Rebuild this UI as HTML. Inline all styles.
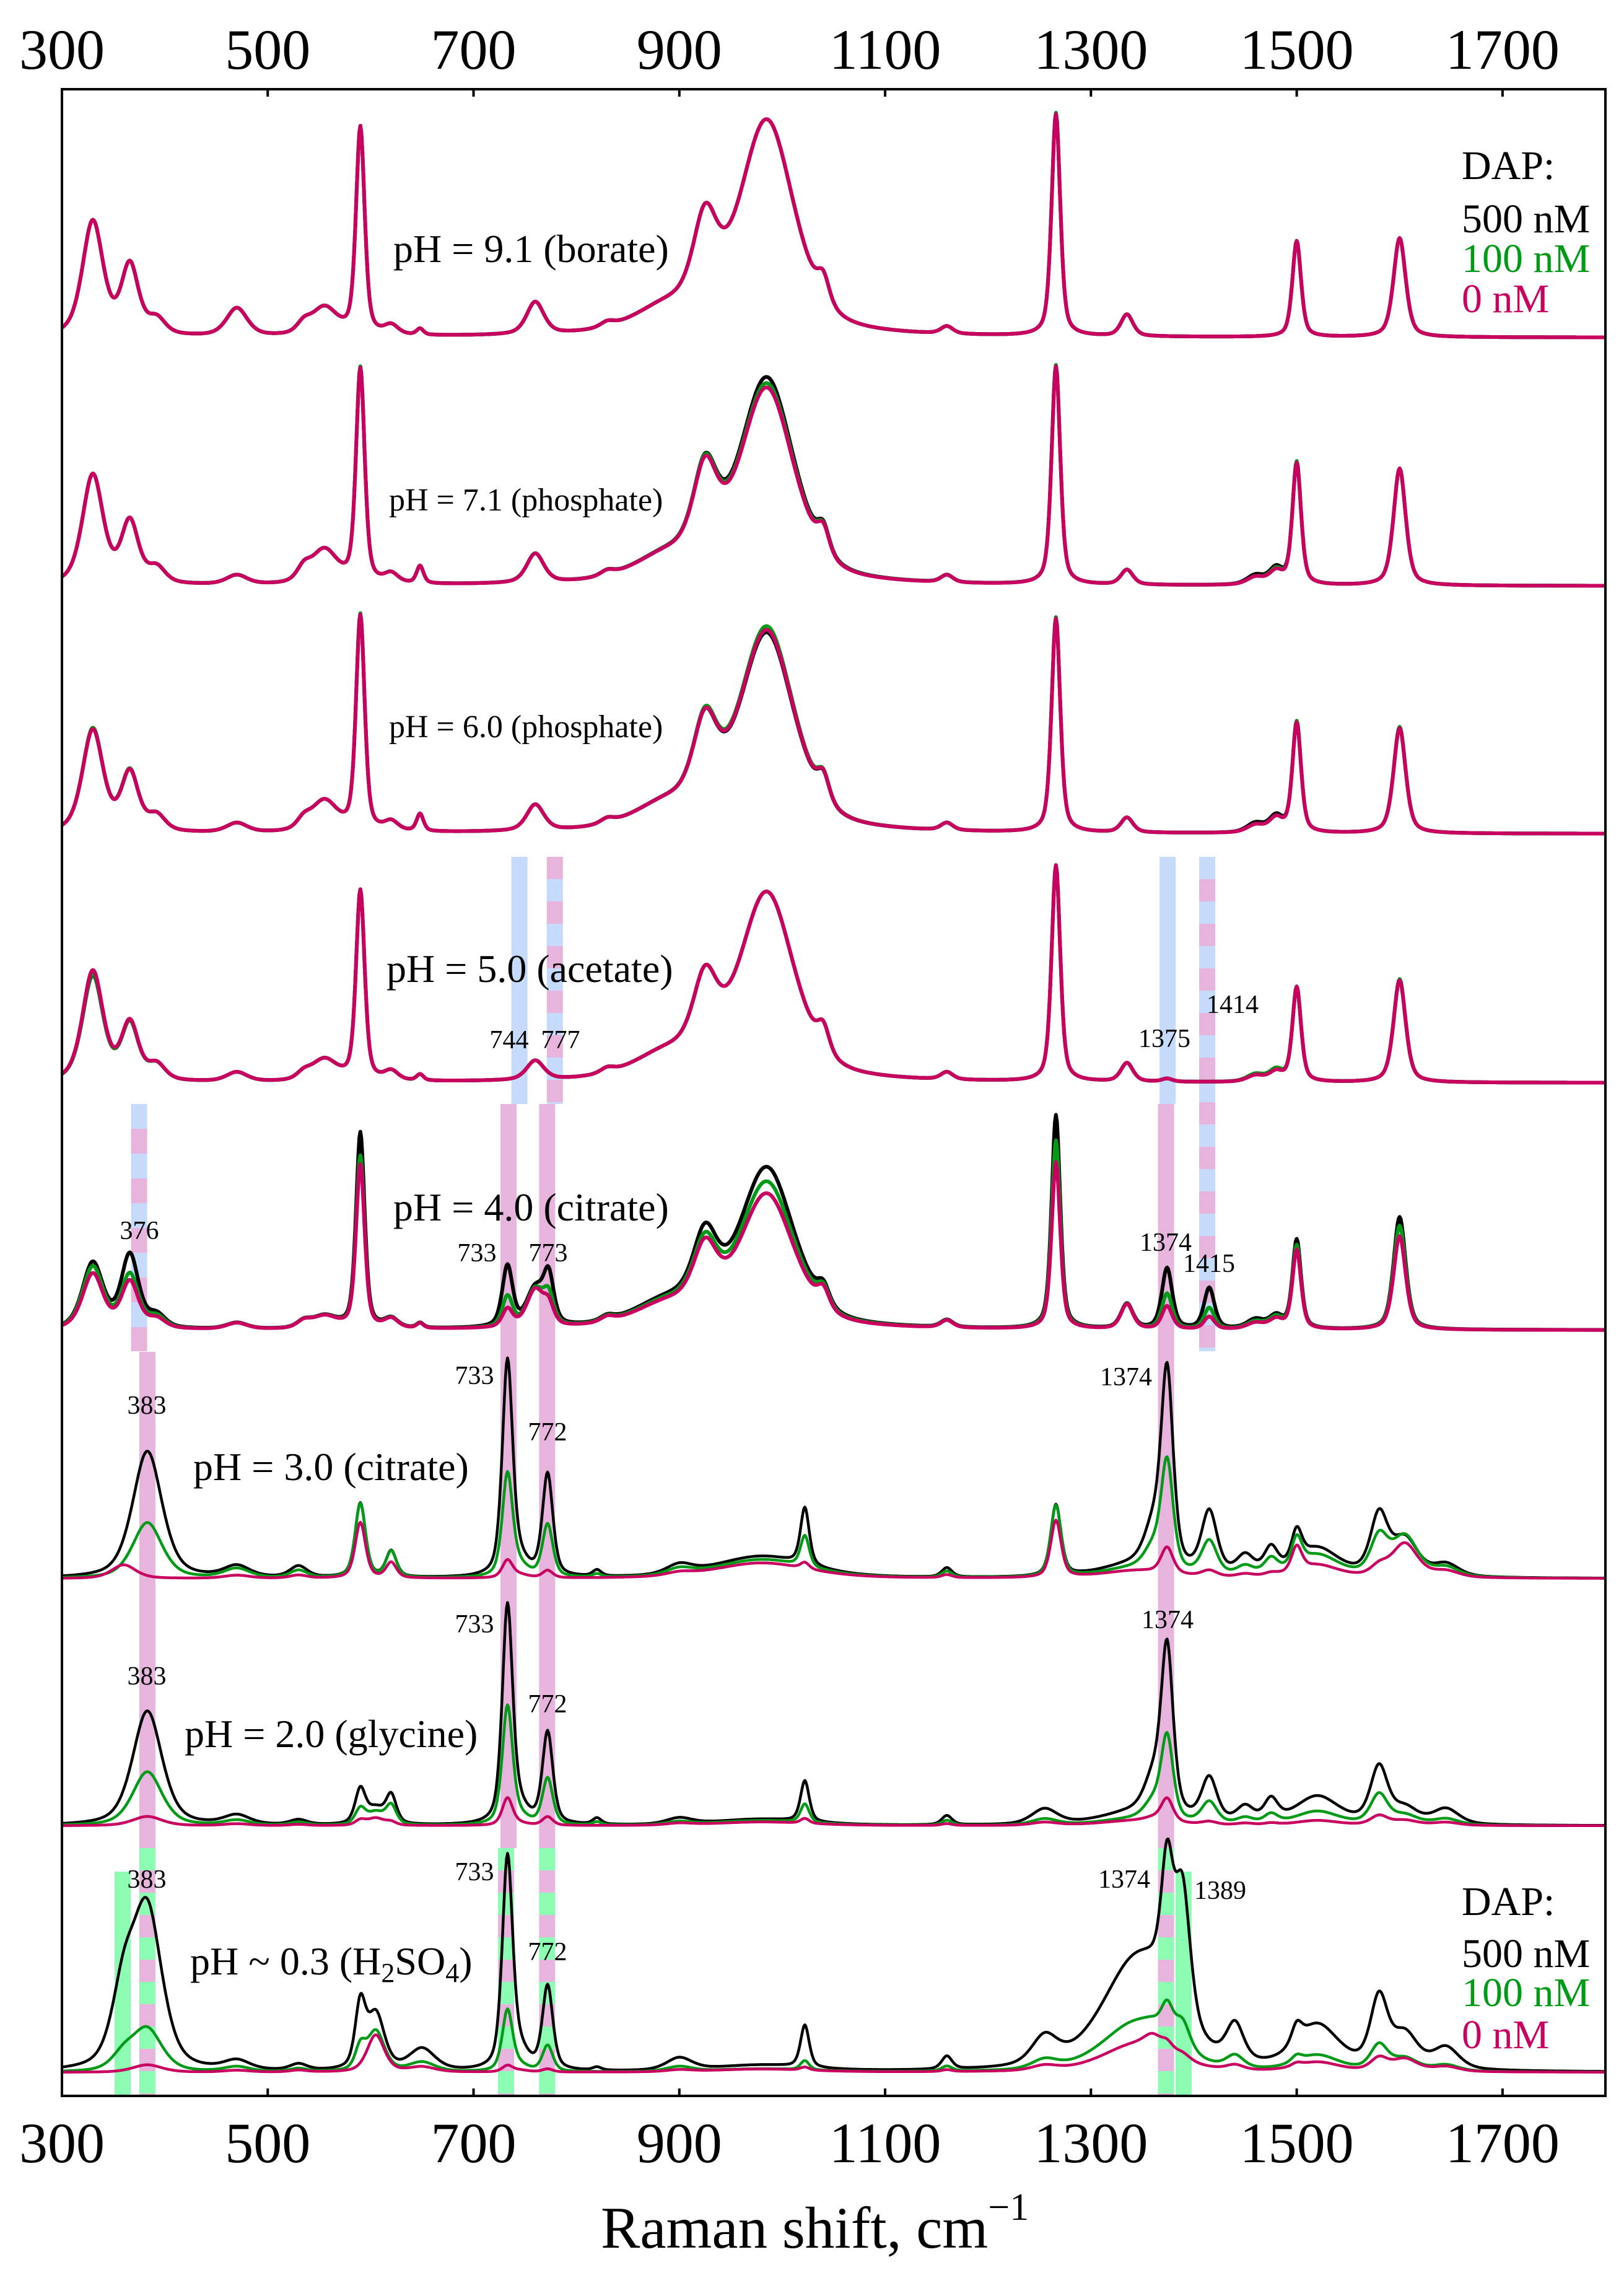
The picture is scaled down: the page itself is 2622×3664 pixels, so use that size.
<!DOCTYPE html>
<html><head><meta charset="utf-8"><style>
html,body{margin:0;padding:0;background:#fff}
svg{display:block}
text{font-family:"Liberation Serif",serif;fill:#000}
</style></head><body>
<svg id="chart" xmlns="http://www.w3.org/2000/svg" width="2622" height="3664" viewBox="0 0 2622 3664">
<rect x="0" y="0" width="2622" height="3664" fill="#fff"/>
<g id="bands"></g>
<g id="curves"></g>
<g id="axes"></g>
<g id="labels">
<text x="635" y="423" font-size="64">pH = 9.1 (borate)</text>
<text x="628" y="824" font-size="52">pH = 7.1 (phosphate)</text>
<text x="628" y="1190" font-size="52">pH = 6.0 (phosphate)</text>
<text x="624" y="1585" font-size="64">pH = 5.0 (acetate)</text>
<text x="635" y="1970" font-size="64">pH = 4.0 (citrate)</text>
<text x="312" y="2389" font-size="64">pH = 3.0 (citrate)</text>
<text x="298" y="2820" font-size="64">pH = 2.0 (glycine)</text>
<text x="307" y="3187" font-size="64">pH ~ 0.3 (H<tspan font-size="44" dy="12">2</tspan><tspan dy="-12">SO</tspan><tspan font-size="44" dy="12">4</tspan><tspan dy="-12">)</tspan></text>
<g font-size="42" text-anchor="middle">
<text x="822" y="1692">744</text>
<text x="905" y="1692">777</text>
<text x="1880" y="1690">1375</text>
<text x="1990" y="1635">1414</text>
<text x="225" y="2000">376</text>
<text x="770" y="2036">733</text>
<text x="885" y="2036">773</text>
<text x="1882" y="2019">1374</text>
<text x="1952" y="2053">1415</text>
<text x="237" y="2282">383</text>
<text x="766" y="2234">733</text>
<text x="884" y="2325">772</text>
<text x="1818" y="2236">1374</text>
<text x="237" y="2719">383</text>
<text x="766" y="2635">733</text>
<text x="884" y="2764">772</text>
<text x="1885" y="2628">1374</text>
<text x="237" y="3047">383</text>
<text x="766" y="3035">733</text>
<text x="884" y="3164">772</text>
<text x="1815" y="3047">1374</text>
<text x="1970" y="3065">1389</text>
</g>
<g font-size="66">
<text x="2360" y="289">DAP:</text>
<text x="2360" y="375">500 nM</text>
<text x="2360" y="439" style="fill:#009a17">100 nM</text>
<text x="2360" y="504" style="fill:#c8005f">0 nM</text>
</g>
<g font-size="66">
<text x="2360" y="3091">DAP:</text>
<text x="2360" y="3175">500 nM</text>
<text x="2360" y="3238" style="fill:#009a17">100 nM</text>
<text x="2360" y="3306" style="fill:#c8005f">0 nM</text>
</g>
<text x="970" y="3628" font-size="95">Raman shift, cm<tspan font-size="62" dy="-45">−1</tspan></text>
</g>
</svg>
<script>
const xTicks=[300,500,700,900,1100,1300,1500,1700];
const baselines=[545,946,1346,1748,2147,2548,2947,3345];
const centersA=[305,330,366,392,470,535,555,590,620,648,733,744,760,773,830,890,925,985,1040,1160,1266,1335,1374,1415,1460,1480,1500,1525,1600];
const widthsA=[10,12,10,10,12,8,15,5,8,4,6,8,10,6,8,40,14,32,7,7,5,7,6,6,10,8,5,8,7];
const p1Black=[0,185,112,25,45,15,45,335,15,10,0,0,52,0,8,40,140,345,40,12,360,35,0,0,0,0,155,0,160];
const p1Green=[0,185,112,25,45,15,45,335,15,10,0,0,52,0,8,40,140,345,40,12,360,35,0,0,0,0,155,0,160];
const p1Magenta=[0,185,112,25,45,15,45,335,15,10,0,0,52,0,8,40,140,345,40,12,358,35,0,0,0,0,155,0,160];
const p2Black=[0,177,99,25,15,20,55,347,15,28,0,0,47,0,8,40,140,330,40,12,354,24,0,0,15,25,198,0,189];
const p2Green=[0,177,99,25,15,20,55,347,15,28,0,0,47,0,8,40,140,320,40,12,354,24,0,0,12,22,198,0,189];
const p2Magenta=[0,177,99,25,15,20,55,345,15,28,0,0,47,0,8,40,138,313,40,12,352,24,0,0,12,20,196,0,189];
const p3Black=[0,165,94,25,15,15,50,349,15,28,0,0,42,0,8,40,130,318,40,12,347,24,0,0,15,25,179,0,170];
const p3Green=[0,167,95,25,15,15,50,349,15,28,0,0,42,0,8,40,132,328,40,12,347,24,0,0,12,22,179,0,172];
const p3Magenta=[0,165,94,25,15,15,50,347,15,28,0,0,42,0,8,40,130,322,40,12,345,24,0,0,12,22,177,0,170];
const p4Black=[0,170,90,25,15,10,35,307,15,10,0,0,31,0,8,40,120,302,40,12,349,30,5,0,10,15,153,0,165];
const p4Green=[0,172,90,25,15,10,35,307,15,10,0,0,31,0,8,40,120,302,40,12,349,30,5,0,12,18,153,0,167];
const p4Magenta=[0,178,92,25,15,10,35,307,15,10,0,0,31,0,8,40,120,302,40,12,349,30,5,0,10,15,153,0,165];
const p5Black=[0,106,118,20,10,10,20,316,15,8,98,0,60,75,8,40,110,257,30,12,345,40,98,66,15,20,144,0,182];
const p5Green=[0,100,86,18,10,10,20,278,15,8,49,0,60,43,8,38,100,234,30,12,304,40,57,34,12,18,135,0,168];
const p5Magenta=[0,89,75,15,10,10,20,264,15,8,29,0,60,29,8,36,95,215,30,12,269,40,37,20,10,15,128,0,151];
const centersB=[305,360,383,470,530,590,605,620,650,733,745,772,820,900,980,1022,1160,1255,1266,1345,1360,1374,1389,1415,1440,1450,1475,1500,1520,1580,1605,1645];
const widthsB=[10,14,17,15,10,6,10,6,15,6,10,6,5,15,55,5,6,15,6,40,10,7,9,9,10,10,8,6,25,10,15,15];
const p6Black=[0,0,205,18,18,120,0,42,0,345,20,165,10,15,35,92,15,0,115,20,55,315,0,100,0,30,40,50,45,95,60,20];
const p6Green=[0,0,90,15,12,120,0,42,0,165,15,85,5,10,30,50,10,0,115,15,30,175,0,55,0,15,25,45,35,60,65,15];
const p6Magenta=[0,22,0,5,5,90,0,25,0,28,5,12,0,5,25,10,5,0,92,12,0,42,0,10,0,5,5,40,20,15,55,10];
const p7Black=[0,0,185,15,8,55,25,45,0,350,20,148,10,10,10,66,15,25,0,20,50,270,0,70,0,25,35,0,45,90,25,25];
const p7Green=[0,0,87,8,5,25,20,30,0,190,10,75,5,5,8,30,8,10,0,10,25,135,0,35,0,10,15,0,22,48,15,10];
const p7Magenta=[0,0,15,3,2,8,12,5,0,44,3,14,0,3,6,8,3,5,0,8,5,38,0,5,0,3,3,0,8,15,8,5];
const p8Black=[0,115,255,15,10,100,90,0,35,340,25,135,5,20,10,68,21,45,0,180,10,205,215,0,60,0,0,30,70,110,55,35];
const p8Green=[0,25,68,8,5,35,65,0,15,98,8,42,0,8,5,15,8,15,0,80,10,50,45,0,20,0,0,10,25,40,20,10];
const p8Magenta=[0,0,12,3,3,0,60,0,8,10,3,5,0,3,5,5,3,8,0,45,20,15,10,0,8,0,0,5,15,20,20,8];
const panelNames=["ph-9-1","ph-7-1","ph-6-0","ph-5-0","ph-4-0","ph-3-0","ph-2-0","ph-0-3"];

const NS="http://www.w3.org/2000/svg";
const X0=100,X1=2592,Y0=144,Y1=3383,XMIN=300,XMAX=1800;
function xs(v){return X0+(v-XMIN)*(X1-X0)/(XMAX-XMIN);}
function ys(v,b){return b-v;}
function pv(d,w){const r=d/w;return 0.5*Math.exp(-0.6931*r*r)+0.5/(1+r*r);}
function spectrum(c,w,a,x){let s=0;for(let i=0;i<c.length;i++){if(a[i])s+=a[i]*pv(x-c[i],w[i]);}return s;}

const panels=[
 [centersA,widthsA,p1Black,p1Green,p1Magenta],
 [centersA,widthsA,p2Black,p2Green,p2Magenta],
 [centersA,widthsA,p3Black,p3Green,p3Magenta],
 [centersA,widthsA,p4Black,p4Green,p4Magenta],
 [centersA,widthsA,p5Black,p5Green,p5Magenta],
 [centersB,widthsB,p6Black,p6Green,p6Magenta],
 [centersB,widthsB,p7Black,p7Green,p7Magenta],
 [centersB,widthsB,p8Black,p8Green,p8Magenta]
];
const colors=["#000000","#009a17","#c8005f"];
const seriesNames=["500nm","100nm","0nm"];

const bandG=document.getElementById('bands');
const BLUE="#c6dafb",PINK="#e6b4dc",GREEN="#8dfcb3";
const bands=[
 [744.6,1383,1782,[BLUE],40],[779,1383,1782,[PINK,BLUE],36],
 [1374.5,1383,1782,[BLUE],40],[1413,1383,2181,[BLUE,PINK],36],
 [375,1782,2181,[BLUE,PINK],40],
 [734,1782,2983,[PINK],40],[771.5,1782,2983,[PINK],40],[1373,1782,2983,[PINK],40],[383,2182,2983,[PINK],40],
 [383,2983,3381,[GREEN,PINK],36],[731.6,2983,3381,[GREEN,PINK],36],[771.5,2983,3381,[GREEN,PINK],36],[1373,2983,3381,[GREEN,PINK],36],
 [359,3021,3381,[GREEN],40],[1390,3021,3381,[GREEN],40]
];
bands.forEach(function(b){
 const cx=xs(b[0]),w=26;
 for(let y=b[1],k=0;y<b[2];y+=b[4],k++){
  const r=document.createElementNS(NS,'rect');
  r.setAttribute('x',cx-w/2);r.setAttribute('y',y);r.setAttribute('width',w);
  r.setAttribute('height',Math.min(b[4],b[2]-y));r.setAttribute('fill',b[3][k%b[3].length]);
  
  
  bandG.appendChild(r);
 }
});

const cg=document.getElementById('curves');
panels.forEach(function(p,pi){
 const g=document.createElementNS(NS,'g');
 
 
 cg.appendChild(g);
 for(let s=0;s<3;s++){
  let d="";
  for(let x=XMIN;x<=XMAX;x+=1){
   const v=spectrum(p[0],p[1],p[2+s],x);
   d+=(x===XMIN?"M":"L")+xs(x).toFixed(1)+","+ys(v,baselines[pi]).toFixed(1);
  }
  const path=document.createElementNS(NS,'path');
  path.setAttribute('d',d);path.setAttribute('fill','none');
  path.setAttribute('stroke',colors[s]);path.setAttribute('stroke-width',pi<5?6:4.5);
  path.setAttribute('stroke-linejoin','round');
  
  
  g.appendChild(path);
 }
});

const ag=document.getElementById('axes');
const frame=document.createElementNS(NS,'rect');
frame.setAttribute('x',X0);frame.setAttribute('y',Y0);frame.setAttribute('width',X1-X0);frame.setAttribute('height',Y1-Y0);
frame.setAttribute('fill','none');frame.setAttribute('stroke','#000');frame.setAttribute('stroke-width',4);


ag.appendChild(frame);
xTicks.forEach(function(t){
 const x=xs(t);
 [[Y0,Y0+12,'top'],[Y1,Y1-12,'bottom']].forEach(function(q){
  const l=document.createElementNS(NS,'line');
  l.setAttribute('x1',x);l.setAttribute('x2',x);l.setAttribute('y1',q[0]);l.setAttribute('y2',q[1]);
  l.setAttribute('stroke','#000');l.setAttribute('stroke-width',4);
  
  
  ag.appendChild(l);
 });
 [[111,'top'],[3490,'bottom']].forEach(function(q){
  const tx=document.createElementNS(NS,'text');
  tx.setAttribute('x',x);tx.setAttribute('y',q[0]);tx.setAttribute('font-size',92);
  tx.setAttribute('text-anchor','middle');tx.textContent=String(t);
  
  
  ag.appendChild(tx);
 });
});
</script>
</body></html>
